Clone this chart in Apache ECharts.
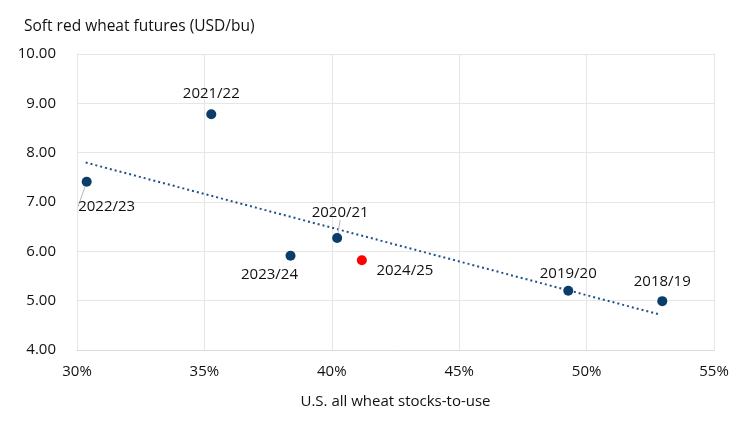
<!DOCTYPE html>
<html><head><meta charset="utf-8">
<script src="https://cdn.jsdelivr.net/npm/echarts@6/dist/echarts.min.js"></script>
<style>html,body{margin:0;padding:0;background:#fff}#c{width:750px;height:422px}</style>
</head><body><div id="c"></div>
<script>
const seasons = ['2022/23','2021/22','2023/24','2020/21','2024/25','2019/20','2018/19'];
const stocksToUse = [30.38, 35.27, 38.38, 40.21, 41.18, 49.28, 52.97];
const futuresPrice = [7.41, 8.78, 5.91, 6.27, 5.82, 5.20, 4.99];
const trendX = [30.34, 52.86];
const trendY = [7.80, 4.72];
const xTicks = [30, 35, 40, 45, 50, 55];
const yTicks = [4, 5, 6, 7, 8, 9, 10];

const labelShift = {
  '2021/22': [0, -3, false],
  '2022/23': [20, 42, true],
  '2023/24': [-21, 36, false],
  '2020/21': [3, -8, true],
  '2024/25': [43, 28, false],
  '2019/20': [0, 0, false],
  '2018/19': [0, -2, false]
};
const font = 'Open Sans';
const txt = '#111111';
const leader = {color: '#b4b4b4', width: 1, opacity: 1};
const chart = echarts.init(document.getElementById('c'), null, {renderer: 'canvas'});
const pts = seasons.map((s, i) => ({
  name: s,
  value: [stocksToUse[i], futuresPrice[i]],
  itemStyle: {color: s === '2024/25' ? '#ff0000' : '#0b3d6b', opacity: 1},
  labelLine: {show: labelShift[s][2], lineStyle: leader}
}));
chart.setOption({
  animation: false,
  textStyle: {fontFamily: font},
  title: {text: 'Soft red wheat futures (USD/bu)', left: 19, top: 14,
    textStyle: {fontFamily: font, fontSize: 15.5, fontWeight: 'normal', color: txt}},
  grid: {left: 77, right: 36, top: 54, bottom: 72},
  xAxis: {
    type: 'value', min: xTicks[0], max: xTicks[xTicks.length - 1], interval: 5,
    name: 'U.S. all wheat stocks-to-use', nameLocation: 'middle', nameGap: 44,
    nameTextStyle: {fontFamily: font, fontSize: 15, color: txt},
    axisLine: {show: true, lineStyle: {color: '#d9d9d9'}}, axisTick: {show: false},
    axisLabel: {formatter: v => v + '%', fontFamily: font, fontSize: 15, color: txt, margin: 14},
    splitLine: {show: true, lineStyle: {color: '#e6e6e6'}}
  },
  yAxis: {
    type: 'value', min: yTicks[0], max: yTicks[yTicks.length - 1], interval: 1,
    axisLine: {show: false}, axisTick: {show: false},
    axisLabel: {formatter: v => v.toFixed(2), fontFamily: font, fontSize: 15, color: txt, margin: 21},
    splitLine: {show: true, lineStyle: {color: '#e6e6e6'}}
  },
  series: [
    {
      type: 'line', data: trendX.map((x, i) => [x, trendY[i]]), symbol: 'none', z: 1,
      lineStyle: {color: '#1f5286', width: 2, type: [2, 3]}
    },
    {
      type: 'scatter', data: pts, symbolSize: 10, z: 3,
      itemStyle: {opacity: 1},
      label: {show: true, position: 'top', distance: 5, formatter: p => p.name,
        fontFamily: font, fontSize: 15, color: txt, opacity: 1},
      labelLine: {show: true, lineStyle: leader},
      labelLayout: p => {
        const s = labelShift[seasons[p.dataIndex]];
        return {dx: s[0], dy: s[1]};
      }
    }
  ]
});
</script></body></html>
